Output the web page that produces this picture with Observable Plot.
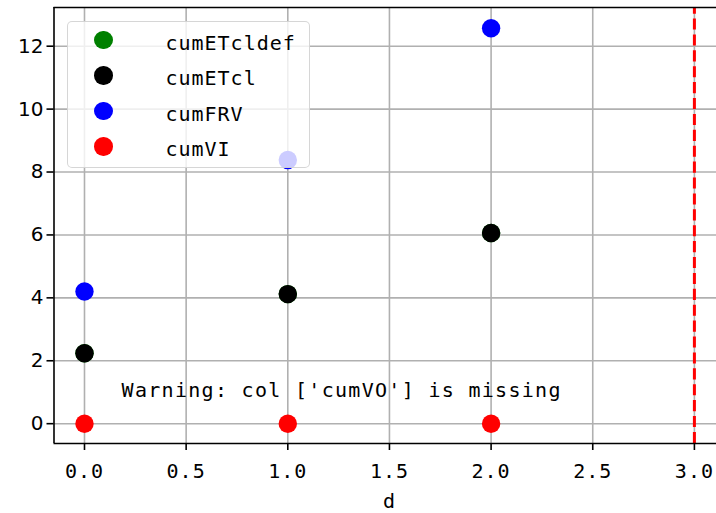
<!DOCTYPE html>
<html><head><meta charset="utf-8">
<script src="https://cdn.jsdelivr.net/npm/d3@7"></script>
<script src="https://cdn.jsdelivr.net/npm/@observablehq/plot@0.6"></script>
<style>
body{margin:0;background:#fff}
#wrap{position:relative;width:716px;height:513px;overflow:hidden}
#wrap svg{display:block}
g[aria-label="x-axis tick label"] text{letter-spacing:1px}
g[aria-label="text"] text{letter-spacing:1.3px}
.legend{position:absolute;left:67px;top:21px;width:243px;height:147px;box-sizing:border-box;border:1.6px solid rgba(204,204,204,0.8);border-radius:5px;background:rgba(255,255,255,0.8)}
.legend .mk{position:absolute;width:18.4px;height:18.4px;border-radius:50%}
.legend .lb{position:absolute;font-family:"DejaVu Sans Mono",monospace;font-size:20px;line-height:20px;letter-spacing:1px;color:#000;white-space:nowrap}
</style></head><body><div id="wrap"></div>
<script>
const days = [0, 1, 2];
const cumETcldef = [2.24, 4.12, 6.06];
const cumETcl = [2.24, 4.12, 6.06];
const cumFRV = [4.2, 8.38, 12.57];
const cumVI = [0, 0, 0];
const seriesNames = ["cumETcldef", "cumETcl", "cumFRV", "cumVI"];
const seriesColors = ["green", "black", "blue", "red"];
const seriesValues = [cumETcldef, cumETcl, cumFRV, cumVI];
const xTicks = [0, 0.5, 1, 1.5, 2, 2.5, 3];
const yTicks = [0, 2, 4, 6, 8, 10, 12];
const endDay = [3];
const xLabel = ["d"];
const warnings = [{label: "Warning: col ['cumVO'] is missing", x: 1.265, y: 1.05}];
const xDomain = [-0.15, 3.1087];
const yDomain = [-0.63, 13.23];

const rows = seriesNames.flatMap((name, i) =>
  days.map((d, j) => ({series: name, d, value: seriesValues[i][j], color: seriesColors[i]})));

const chart = Plot.plot({
  width: 716, height: 513,
  marginLeft: 53.5, marginRight: 0, marginTop: 7, marginBottom: 70,
  x: {domain: xDomain},
  y: {domain: yDomain},
  color: {type: "identity"},
  style: {background: "white", color: "black"},
  marks: [
    Plot.gridX(xTicks, {stroke: "#b0b0b0", strokeOpacity: 1, strokeWidth: 1.6}),
    Plot.gridY(yTicks, {stroke: "#b0b0b0", strokeOpacity: 1, strokeWidth: 1.6}),
    Plot.ruleX(endDay, {y1: yDomain[0], y2: yDomain[1], stroke: "red", strokeWidth: 3, strokeDasharray: "11.1,4.8"}),
    Plot.dot(rows, {x: "d", y: "value", fill: "color", r: 9.2}),
    Plot.text(warnings, {x: "x", y: "y", text: "label", fontFamily: "DejaVu Sans Mono", fontSize: 20, fill: "black"}),
    Plot.ruleX([xDomain[0]], {stroke: "black", strokeWidth: 1.6}),
    Plot.ruleY(yDomain, {stroke: "black", strokeWidth: 1.6}),
    Plot.axisX(xTicks, {tickFormat: d3.format(".1f"), tickSize: 7, tickPadding: 13, strokeWidth: 1.6,
      fontSize: 20, fontFamily: "DejaVu Sans Mono", label: null}),
    Plot.text(xLabel, {frameAnchor: "bottom", dx: 4.5, dy: 58, lineAnchor: "middle", fontSize: 20,
      fontFamily: "DejaVu Sans Mono", fill: "black"}),
    Plot.axisY(yTicks, {tickSize: 7, tickPadding: 3.5, strokeWidth: 1.6, fontSize: 20, fontFamily: "DejaVu Sans", label: null})
  ]
});
const wrap = document.getElementById("wrap");
wrap.appendChild(chart);

const legend = document.createElement("div");
legend.className = "legend";
seriesNames.forEach((name, i) => {
  const cy = 19.7 + 35.5 * i - 1.6;
  const mk = document.createElement("div");
  mk.className = "mk";
  mk.style.background = seriesColors[i];
  mk.style.left = (37 - 9.2 - 1.6) + "px";
  mk.style.top = (cy - 9.2) + "px";
  legend.appendChild(mk);
  const lb = document.createElement("div");
  lb.className = "lb";
  lb.textContent = name;
  lb.style.left = (99 - 1.6) + "px";
  lb.style.top = (cy - 10 + 2.5) + "px";
  legend.appendChild(lb);
});
wrap.appendChild(legend);
</script></body></html>
